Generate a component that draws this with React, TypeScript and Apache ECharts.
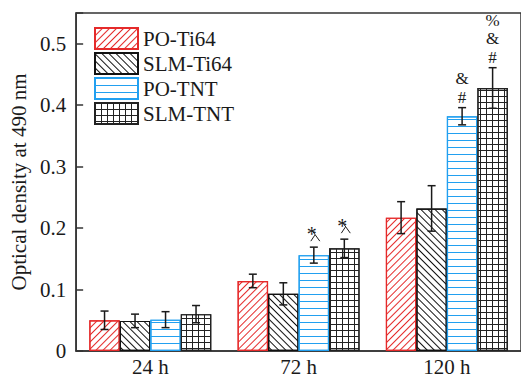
import React, { useEffect, useRef } from 'react';
import * as echarts from 'echarts';

const categories = ['24 h', '72 h', '120 h'];
const seriesNames = ['PO-Ti64', 'SLM-Ti64', 'PO-TNT', 'SLM-TNT'];

const poTi64 = [0.05, 0.114, 0.217];
const poTi64Err = [0.015, 0.011, 0.026];
const slmTi64 = [0.049, 0.093, 0.232];
const slmTi64Err = [0.011, 0.018, 0.037];
const poTnt = [0.051, 0.156, 0.382];
const poTntErr = [0.013, 0.013, 0.014];
const slmTnt = [0.06, 0.167, 0.428];
const slmTntErr = [0.014, 0.015, 0.033];

const poTi64Marks = ['', '', ''];
const slmTi64Marks = ['', '', ''];
const poTntMarks = ['', '*', '&\n#'];
const slmTntMarks = ['', '*', '%\n&\n#'];

const yTickLabels = ['0', '0.1', '0.2', '0.3', '0.4', '0.5'];

const values = [poTi64, slmTi64, poTnt, slmTnt];
const errors = [poTi64Err, slmTi64Err, poTntErr, slmTntErr];
const marks = [poTi64Marks, slmTi64Marks, poTntMarks, slmTntMarks];

const FONT = "'Liberation Serif', 'Times New Roman', Times, serif";
const INK = '#1a1a1a';
const BAR_W = 30.5;
const RED = '#e52a2a';
const BLUE = '#22a0f0';

const baseDecal = { symbol: 'rect', symbolSize: 1, symbolKeepAspect: false };
const barStyles = [
  {
    color: '#fff',
    borderColor: RED,
    borderWidth: 1.2,
    decal: { ...baseDecal, color: RED, dashArrayX: [8, 0], dashArrayY: [1, 4], rotation: -Math.PI / 4 },
  },
  {
    color: '#fff',
    borderColor: '#111',
    borderWidth: 1.2,
    decal: { ...baseDecal, color: '#111', dashArrayX: [8, 0], dashArrayY: [1, 4], rotation: Math.PI / 4 },
  },
  {
    color: '#fff',
    borderColor: BLUE,
    borderWidth: 1.2,
    decal: { ...baseDecal, color: BLUE, dashArrayX: [8, 0], dashArrayY: [1, 6], rotation: 0 },
  },
  {
    color: '#fff',
    borderColor: '#222',
    borderWidth: 1.2,
    decal: { ...baseDecal, color: '#222', dashArrayX: [[6, 0], [1, 5]], dashArrayY: [1, 0, 5, 0], rotation: 0 },
  },
];

export default function App() {
  const ref = useRef<HTMLDivElement>(null);
  useEffect(() => {
    if (!ref.current) return;
    const chart = echarts.init(ref.current, undefined, { renderer: 'svg' });
    const lineStyle = { color: '#333', width: 1.5 };

    const barSeries = seriesNames.map((name, k) => ({
      name,
      type: 'bar',
      data: values[k],
      barWidth: BAR_W,
      barGap: '0%',
      itemStyle: barStyles[k],
      emphasis: { disabled: true },
      silent: true,
      z: 2,
    }));

    const errSeries = seriesNames.map((name, k) => ({
      name: name + '-err',
      type: 'custom',
      silent: true,
      z: 10,
      encode: { x: 0, y: 1 },
      data: categories.map((c, i) => [i, values[k][i], errors[k][i]]),
      renderItem: (params: any, api: any) => {
        const i = api.value(0);
        const v = api.value(1);
        const e = api.value(2);
        const c = api.coord([i, v]);
        const x = c[0] + (k - 1.5) * BAR_W;
        const top = api.coord([i, v + e])[1];
        const bot = api.coord([i, v - e])[1];
        const cap = 4;
        const st = { stroke: INK, lineWidth: 1.5 };
        const children: any[] = [
          { type: 'line', shape: { x1: x, y1: top, x2: x, y2: bot }, style: st },
          { type: 'line', shape: { x1: x - cap, y1: top, x2: x + cap, y2: top }, style: st },
          { type: 'line', shape: { x1: x - cap, y1: bot, x2: x + cap, y2: bot }, style: st },
        ];
        const m = marks[k][params.dataIndex];
        if (m === '*') {
          const cy = top - 17;
          children.push({
            type: 'text',
            style: { text: '*', x: x - 2, y: cy + 4, align: 'center', verticalAlign: 'middle', fontSize: 20, fontFamily: FONT, fill: INK },
          });
          children.push({ type: 'line', shape: { x1: x - 2, y1: cy, x2: x + 6, y2: cy + 11 }, style: { stroke: INK, lineWidth: 1 } });
          children.push({ type: 'line', shape: { x1: x + 1, y1: cy + 5, x2: x - 3, y2: cy + 11 }, style: { stroke: INK, lineWidth: 1 } });
        } else if (m) {
          const lines = m.split('\n');
          lines.forEach((ln, j) => {
            const fromBottom = lines.length - 1 - j;
            children.push({
              type: 'text',
              style: {
                text: ln,
                x,
                y: top - 2 - fromBottom * 18.5,
                align: 'center',
                verticalAlign: 'bottom',
                fontSize: 17,
                fontFamily: FONT,
                fill: INK,
              },
            });
          });
        }
        return { type: 'group', children };
      },
    }));

    chart.setOption({
      animation: false,
      backgroundColor: '#fff',
      grid: { left: 74, top: 13, right: -9, bottom: 25, show: true, borderColor: '#333', borderWidth: 1.5 },
      legend: {
        data: seriesNames,
        orient: 'vertical',
        left: 94,
        top: 27,
        padding: 0,
        itemWidth: 43,
        itemHeight: 21,
        itemGap: 2,
        icon: 'rect',
        selectedMode: false,
        textStyle: { fontFamily: FONT, fontSize: 21, color: INK },
      },
      xAxis: {
        type: 'category',
        data: categories,
        axisLine: { show: true, lineStyle },
        axisTick: { show: false },
        axisLabel: { fontFamily: FONT, fontSize: 21, color: INK, margin: 5 },
        splitLine: { show: false },
      },
      yAxis: {
        type: 'value',
        min: 0,
        max: 0.55,
        interval: 0.1,
        axisLine: { show: true, lineStyle },
        axisTick: { show: true, inside: true, length: 7, lineStyle },
        axisLabel: {
          fontFamily: FONT,
          fontSize: 21,
          color: INK,
          margin: 10,
          formatter: (v: number) => {
            const idx = Math.round(v * 10);
            return Math.abs(v * 10 - idx) < 1e-6 && idx < yTickLabels.length ? yTickLabels[idx] : '';
          },
        },
        splitLine: { show: false },
        name: 'Optical density at 490 nm',
        nameLocation: 'middle',
        nameGap: 44,
        nameTextStyle: { fontFamily: FONT, fontSize: 21, color: INK },
      },
      series: [...barSeries, ...errSeries],
    } as any);
    return () => chart.dispose();
  }, []);
  return <div ref={ref} style={{ position: 'absolute', left: 0, top: 0, width: 521, height: 377 }} />;
}
